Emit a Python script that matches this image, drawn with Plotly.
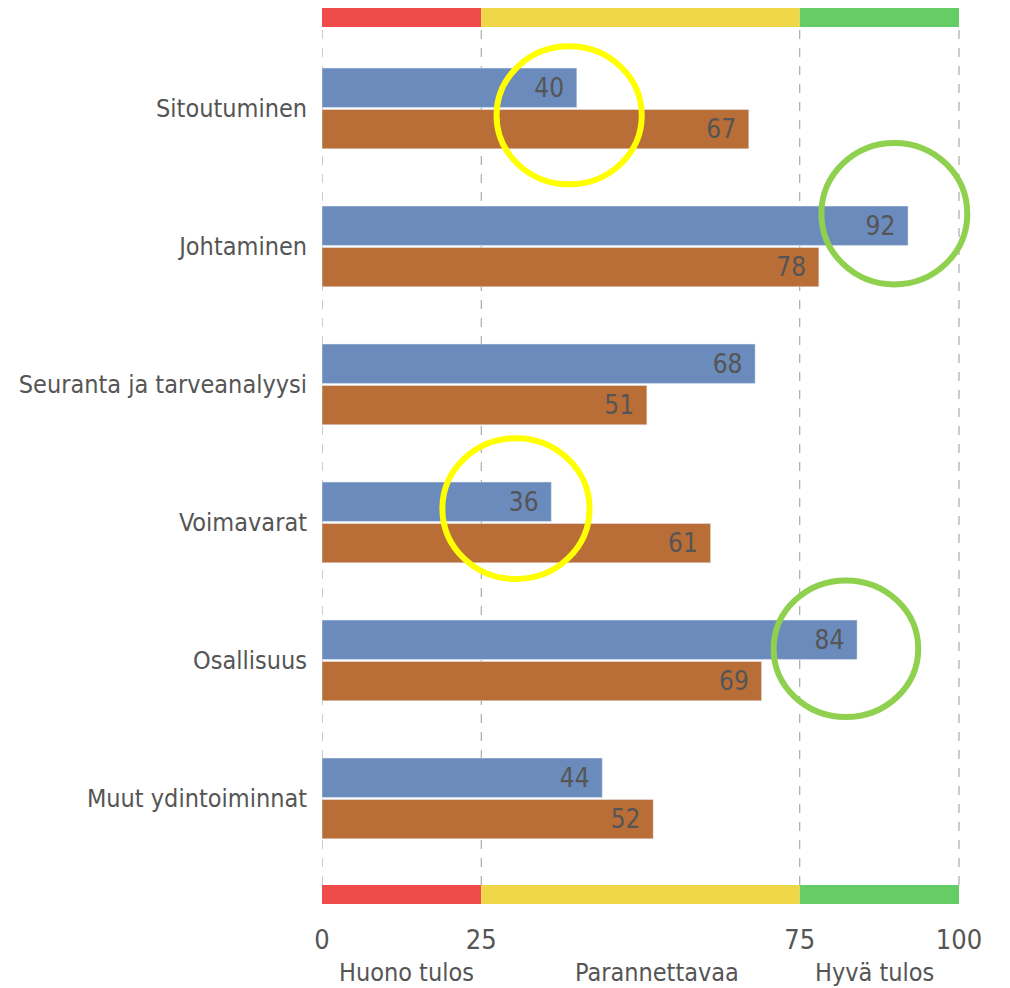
import plotly.graph_objects as go

categories = ["Sitoutuminen", "Johtaminen", "Seuranta ja tarveanalyysi",
              "Voimavarat", "Osallisuus", "Muut ydintoiminnat"]
series_a = [40, 92, 68, 36, 84, 44]
series_b = [67, 78, 51, 61, 69, 52]

zone_bounds = [0, 25, 75, 100]
zone_colors = ["#EF4B4B", "#F0D748", "#66CC66"]
zone_labels = ["Huono tulos", "Parannettavaa", "Hyvä tulos"]
zone_label_x = [13.3, 52.6, 86.8]
tick_vals = [0, 25, 75, 100]

# highlight circles: (x0, x1, cat0, cat1, color)
highlights = [
    (27.4, 50.2, -0.45, 0.55, "#FFFF00"),
    (78.4, 101.3, 0.25, 1.275, "#8FD14F"),
    (18.9, 42.0, 2.39, 3.41, "#FFFF00"),
    (70.9, 93.6, 3.42, 4.41, "#8FD14F"),
]

FONT = "Liberation Sans Narrow, DejaVu Sans Condensed, Arial Narrow, sans-serif"
TXT = "#555555"

fig = go.Figure()
for vals, col in [(series_a, "#6A8BBB"), (series_b, "#B96E38")]:
    fig.add_trace(go.Bar(
        y=categories, x=vals, orientation="h", marker_color=col,
        text=vals, texttemplate="%{x}\u00a0\u200a",
        textposition="inside", insidetextanchor="end", textangle=0,
        textfont=dict(family=FONT, size=26, color=TXT), constraintext="none",
        showlegend=False))

shapes = []
band_h = 19 / 896
for i, c in enumerate(zone_colors):
    for (y0, y1) in [(0, band_h), (1 - band_h, 1)]:
        shapes.append(dict(type="rect", xref="x", yref="paper",
                           x0=zone_bounds[i], x1=zone_bounds[i + 1], y0=y0, y1=y1,
                           fillcolor=c, line=dict(width=0), layer="below"))
for v in tick_vals:
    shapes.append(dict(type="line", xref="x", yref="paper", x0=v, x1=v,
                       y0=band_h, y1=1 - band_h,
                       line=dict(color="#9A9A9A", width=1, dash="dash"), layer="below"))
for (x0, x1, c0, c1, col) in highlights:
    shapes.append(dict(type="circle", xref="x", yref="y", x0=x0, x1=x1, y0=c0, y1=c1,
                       line=dict(color=col, width=6), layer="above"))

annotations = []
for lab, xv in zip(zone_labels, zone_label_x):
    annotations.append(dict(text=lab, x=xv, xref="x", y=-0.076, yref="paper",
                            showarrow=False, xanchor="center", yanchor="middle",
                            font=dict(family=FONT, size=25, color=TXT)))

fig.update_layout(
    width=1002, height=980,
    margin=dict(l=314, r=10, t=0, b=84),
    paper_bgcolor="white", plot_bgcolor="white",
    barmode="group", bargap=0.4, bargroupgap=0.05,
    shapes=shapes, annotations=annotations,
    xaxis=dict(range=[0, (1000 - 322) / 6.37], tickvals=tick_vals,
               showgrid=False, zeroline=False, showline=False, automargin=False,
               tickfont=dict(family=FONT, size=27, color=TXT),
               ticklabelstandoff=17),
    yaxis=dict(type="category", categoryorder="array", categoryarray=categories,
               range=[5.765, -0.728], showgrid=False, zeroline=False, showline=False,
               automargin=False,
               tickfont=dict(family=FONT, size=25, color=TXT),
               ticklabelstandoff=14),
)

fig.write_html("out.html")
